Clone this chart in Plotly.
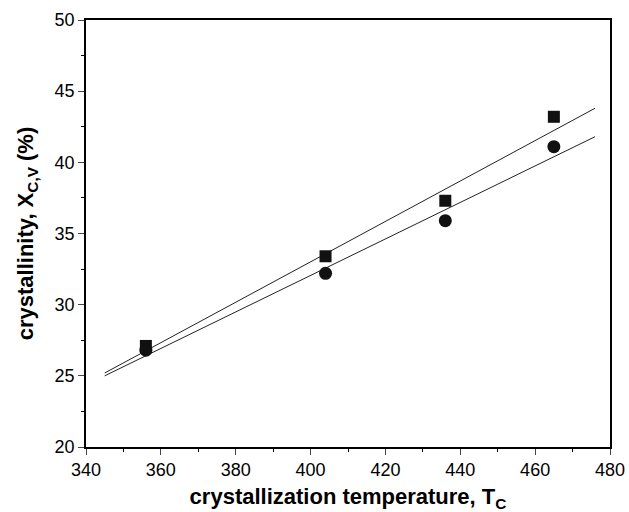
import plotly.graph_objects as go

# Data
temps = [356, 404, 436, 465]
xcv_square = [27.1, 33.4, 37.3, 43.2]
xcv_circle = [26.8, 32.2, 35.9, 41.1]

# Linear-fit line endpoints
fit_x = [345, 476]
fit_square = [25.2, 43.8]
fit_circle = [25.0, 41.8]

x_ticks = [340, 360, 380, 400, 420, 440, 460, 480]
y_ticks = [20, 25, 30, 35, 40, 45, 50]

fig = go.Figure()
fig.add_trace(go.Scatter(x=fit_x, y=fit_square, mode="lines",
                         line=dict(color="#222222", width=1), showlegend=False))
fig.add_trace(go.Scatter(x=fit_x, y=fit_circle, mode="lines",
                         line=dict(color="#222222", width=1), showlegend=False))
fig.add_trace(go.Scatter(x=temps, y=xcv_square, mode="markers",
                         marker=dict(symbol="square", size=12, color="#111111"),
                         showlegend=False))
fig.add_trace(go.Scatter(x=temps, y=xcv_circle, mode="markers",
                         marker=dict(symbol="circle", size=13, color="#111111"),
                         showlegend=False))

font_family = "Liberation Sans, Arial, sans-serif"
fig.update_layout(
    width=629, height=512,
    margin=dict(l=86, r=19, t=20, b=65, autoexpand=False),
    plot_bgcolor="white", paper_bgcolor="white",
    font=dict(family=font_family, color="black", size=18),
    showlegend=False,
)
fig.update_xaxes(
    range=[340, 480], tickvals=x_ticks, ticks="outside", ticklen=6, tickwidth=1,
    showgrid=False, zeroline=False, showline=True, linecolor="black", linewidth=1.5,
    mirror=True, tickfont=dict(size=18), automargin=False,
    minor=dict(dtick=10, tick0=340, ticks="outside", ticklen=3, tickcolor="black", showgrid=False),
    title=dict(text="<b>crystallization temperature, T<sub>C</sub></b>", font=dict(size=22), standoff=18),
)
fig.update_yaxes(
    range=[20, 50], tickvals=y_ticks, ticks="outside", ticklen=6, tickwidth=1,
    showgrid=False, zeroline=False, showline=True, linecolor="black", linewidth=1.5,
    mirror=True, tickfont=dict(size=18), automargin=False,
    minor=dict(dtick=2.5, tick0=20, ticks="outside", ticklen=3, tickcolor="black", showgrid=False),
    title=dict(text="<b>crystallinity, X<sub>C,V</sub> (%)</b>", font=dict(size=22)),
)

fig.write_html("out.html", config={"displayModeBar": False},
               post_script="document.body.style.margin='0';")
